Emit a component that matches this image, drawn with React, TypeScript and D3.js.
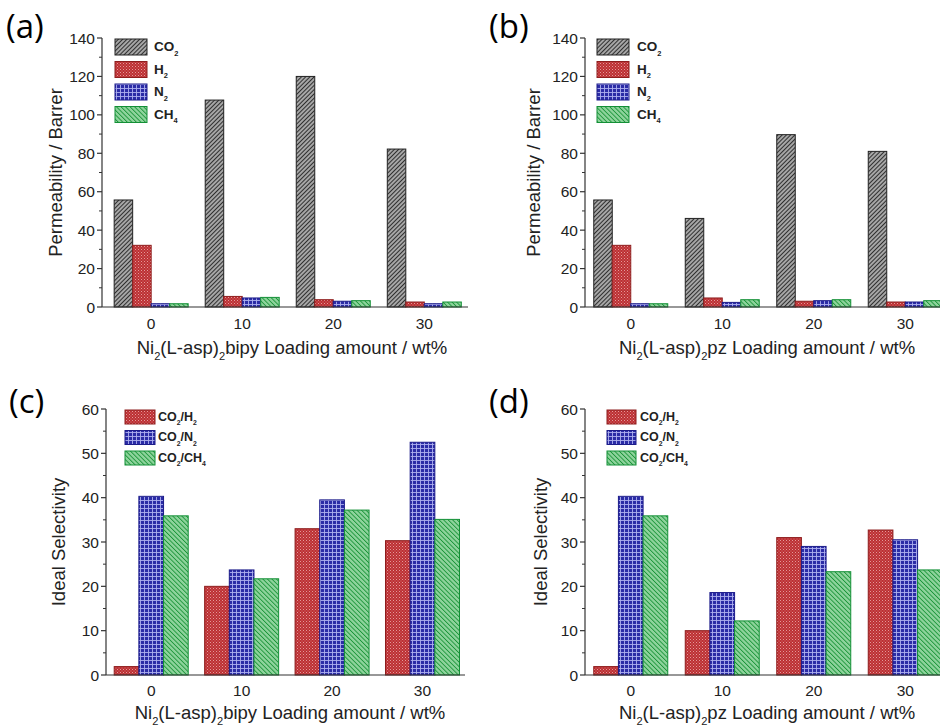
import React from "react";
import * as d3 from "d3";

const loadings = [0, 10, 20, 30];

// Panel (a): Ni2(L-asp)2bipy permeability
const aCO2 = [55.7, 107.7, 120.0, 82.2];
const aH2 = [32.1, 5.5, 3.8, 2.6];
const aN2 = [1.7, 4.7, 3.0, 1.7];
const aCH4 = [1.7, 5.0, 3.3, 2.6];

// Panel (b): Ni2(L-asp)2pz permeability
const bCO2 = [55.7, 46.1, 89.7, 81.0];
const bH2 = [32.1, 4.7, 3.0, 2.6];
const bN2 = [1.7, 2.4, 3.3, 2.6];
const bCH4 = [1.7, 3.8, 3.8, 3.3];

// Panel (c): bipy selectivity
const cH2 = [1.9, 20.0, 33.0, 30.3];
const cN2 = [40.3, 23.7, 39.5, 52.5];
const cCH4 = [35.9, 21.7, 37.2, 35.1];

// Panel (d): pz selectivity
const dH2 = [1.9, 10.0, 31.0, 32.7];
const dN2 = [40.3, 18.6, 29.0, 30.5];
const dCH4 = [35.9, 12.2, 23.3, 23.7];

const permTicks = [0, 20, 40, 60, 80, 100, 120, 140];
const selTicks = [0, 10, 20, 30, 40, 50, 60];

const FONT = "Arial, 'Liberation Sans', sans-serif";

type Style = { fill: string; stroke: string };
const STY: Record<string, Style> = {
  co2: { fill: "url(#pCO2)", stroke: "#222" },
  h2: { fill: "url(#pH2)", stroke: "#8e1e1e" },
  n2: { fill: "url(#pN2)", stroke: "#1c1c8a" },
  ch4: { fill: "url(#pCH4)", stroke: "#139036" },
};

type Series = { key: string; values: number[]; label: string[] };

function Lbl({ parts, size, subScale = 0.62, subShift = 0.3 }: { parts: string[]; size: number; subScale?: number; subShift?: number }) {
  const out: any[] = [];
  let pending = 0;
  parts.forEach((p, i) => {
    if (!p) return;
    if (i % 2 === 1) {
      out.push(
        <tspan key={i} fontSize={size * subScale} dy={size * subShift + pending}>
          {p}
        </tspan>
      );
      pending = -size * subShift;
    } else {
      out.push(
        <tspan key={i} dy={pending}>
          {p}
        </tspan>
      );
      pending = 0;
    }
  });
  return <>{out}</>;
}

function Panel(props: {
  x0: number; x1: number; yTop: number; y0: number; yMax: number; ticks: number[];
  minorStep: number; series: Series[]; tag: string; tagX: number; tagY: number;
  yLabel: string; yLabelX: number; xLabelParts: string[]; xLabelX: number; xLabelY: number;
  tickLabelY: number; legX: number; legY: number; legW: number; legH: number; legStep: number;
  legTextX: number; legFont: number; xDomain: [number, number];
}) {
  const p = props;
  const x = d3.scaleLinear().domain(p.xDomain).range([p.x0, p.x1]);
  const y = d3.scaleLinear().domain([0, p.yMax]).range([p.y0, p.yTop]);
  const sub = d3.scaleBand<string>().domain(p.series.map((s) => s.key)).range([-37, 37]).padding(0);
  const minor = d3.range(p.minorStep, p.yMax, p.minorStep * 2);
  return (
    <g>
      <text x={p.tagX} y={p.tagY} fontFamily="'Open Sans', 'DejaVu Sans', sans-serif" fontSize={33}>{p.tag}</text>
      {p.series.map((s) =>
        s.values.map((v, i) => (
          <rect key={s.key + i} x={x(loadings[i]) + (sub(s.key) as number)} y={y(v)}
            width={sub.bandwidth()} height={p.y0 - y(v)} fill={STY[s.key].fill}
            stroke={STY[s.key].stroke} strokeWidth={1} />
        ))
      )}
      <line x1={p.x0} x2={p.x0} y1={p.yTop} y2={p.y0} stroke="#333" strokeWidth={1.2} />
      <line x1={p.x0} x2={p.x1} y1={p.y0} y2={p.y0} stroke="#333" strokeWidth={1.2} />
      {p.ticks.map((t) => (
        <g key={t}>
          <line x1={p.x0 - 5} x2={p.x0} y1={y(t)} y2={y(t)} stroke="#333" strokeWidth={1.2} />
          <text x={p.x0 - 7} y={y(t) + 5.5} textAnchor="end" fontFamily={FONT} fontSize={15.5} fill="#222">{t}</text>
        </g>
      ))}
      {minor.map((t) => (
        <line key={"m" + t} x1={p.x0 - 3} x2={p.x0} y1={y(t)} y2={y(t)} stroke="#333" strokeWidth={1} />
      ))}
      {loadings.map((l) => (
        <text key={"x" + l} x={x(l)} y={p.tickLabelY} textAnchor="middle" fontFamily={FONT} fontSize={15.5} fill="#222">{l}</text>
      ))}
      <text transform={`translate(${p.yLabelX},${(p.yTop + p.y0) / 2}) rotate(-90)`} textAnchor="middle"
        fontFamily={FONT} fontSize={18.5} fill="#222" dy={6.5}>{p.yLabel}</text>
      <text x={p.xLabelX} y={p.xLabelY} textAnchor="middle" fontFamily={FONT} fontSize={18.5} fill="#222">
        <Lbl parts={p.xLabelParts} size={18.5} subScale={0.6} subShift={0.32} />
      </text>
      {p.series.map((s, i) => (
        <g key={"l" + s.key}>
          <rect x={p.legX} y={p.legY + i * p.legStep} width={p.legW} height={p.legH}
            fill={STY[s.key].fill} stroke={STY[s.key].stroke} strokeWidth={1} />
          <text x={p.legTextX} y={p.legY + i * p.legStep + p.legH / 2 + p.legFont * 0.3}
            fontFamily={FONT} fontWeight="bold" fontSize={p.legFont} fill="#222">
            <Lbl parts={s.label} size={p.legFont} subScale={0.55} subShift={0.35} />
          </text>
        </g>
      ))}
    </g>
  );
}

export default function App() {
  const permSeries = (co2: number[], h2: number[], n2: number[], ch4: number[]): Series[] => [
    { key: "co2", values: co2, label: ["CO", "2"] },
    { key: "h2", values: h2, label: ["H", "2"] },
    { key: "n2", values: n2, label: ["N", "2"] },
    { key: "ch4", values: ch4, label: ["CH", "4"] },
  ];
  const selSeries = (h2: number[], n2: number[], ch4: number[]): Series[] => [
    { key: "h2", values: h2, label: ["CO", "2", "/H", "2"] },
    { key: "n2", values: n2, label: ["CO", "2", "/N", "2"] },
    { key: "ch4", values: ch4, label: ["CO", "2", "/CH", "4"] },
  ];
  const bipy = ["Ni", "2", "(L-asp)", "2", "bipy Loading amount / wt%"];
  const pz = ["Ni", "2", "(L-asp)", "2", "pz Loading amount / wt%"];
  return (
    <svg width={940} height={726} style={{ position: "absolute", left: 0, top: 0, background: "#fff" }}>
      <defs>
        <pattern id="pCO2" width={3} height={3} patternUnits="userSpaceOnUse" patternTransform="rotate(45)">
          <rect width={3} height={3} fill="#a6a6a6" />
          <line x1={0} y1={0} x2={0} y2={3} stroke="#1a1a1a" strokeWidth={1.7} />
        </pattern>
        <pattern id="pH2" width={3} height={3} patternUnits="userSpaceOnUse">
          <rect width={3} height={3} fill="#bd2f32" />
          <rect x={0} y={0} width={1} height={1} fill="#e39a9a" />
          <rect x={1.5} y={1.5} width={1} height={1} fill="#d27b7b" />
        </pattern>
        <pattern id="pN2" width={4} height={4} patternUnits="userSpaceOnUse">
          <rect width={4} height={4} fill="#2b2ca6" />
          <line x1={0} y1={0.5} x2={4} y2={0.5} stroke="#aeb0ee" strokeWidth={0.9} />
          <line x1={0.5} y1={0} x2={0.5} y2={4} stroke="#aeb0ee" strokeWidth={0.9} />
        </pattern>
        <pattern id="pCH4" width={3.2} height={3.2} patternUnits="userSpaceOnUse" patternTransform="rotate(-45)">
          <rect width={3.2} height={3.2} fill="#8fd49d" />
          <line x1={0} y1={0} x2={0} y2={3.2} stroke="#1b9439" strokeWidth={1.8} />
        </pattern>
      </defs>
      <Panel x0={102} x1={468} yTop={38} y0={307} yMax={140} ticks={permTicks} minorStep={10}
        series={permSeries(aCO2, aH2, aN2, aCH4)} tag="(a)" tagX={6} tagY={38}
        yLabel="Permeability / Barrer" yLabelX={55} xLabelParts={bipy} xLabelX={292} xLabelY={354}
        tickLabelY={329} legX={115} legY={39} legW={32} legH={16} legStep={22.5} legTextX={154} legFont={13.5}
        xDomain={[-5.4, 34.8]} />
      <Panel x0={585} x1={951} yTop={38} y0={307} yMax={140} ticks={permTicks} minorStep={10}
        series={permSeries(bCO2, bH2, bN2, bCH4)} tag="(b)" tagX={489} tagY={38}
        yLabel="Permeability / Barrer" yLabelX={533} xLabelParts={pz} xLabelX={767} xLabelY={354}
        tickLabelY={329} legX={597} legY={39} legW={32} legH={16} legStep={22.5} legTextX={637} legFont={13.5}
        xDomain={[-5, 35]} />
      <Panel x0={106} x1={465} yTop={409} y0={675} yMax={60} ticks={selTicks} minorStep={5}
        series={selSeries(cH2, cN2, cCH4)} tag="(c)" tagX={9} tagY={413}
        yLabel="Ideal Selectivity" yLabelX={58} xLabelParts={bipy} xLabelX={290} xLabelY={719}
        tickLabelY={696} legX={125} legY={410} legW={30} legH={14} legStep={20.5} legTextX={158} legFont={12.5}
        xDomain={[-5, 34.7]} />
      <Panel x0={585} x1={951} yTop={409} y0={675} yMax={60} ticks={selTicks} minorStep={5}
        series={selSeries(dH2, dN2, dCH4)} tag="(d)" tagX={489} tagY={413}
        yLabel="Ideal Selectivity" yLabelX={540} xLabelParts={pz} xLabelX={767} xLabelY={719}
        tickLabelY={696} legX={607} legY={410} legW={29} legH={14} legStep={20.5} legTextX={640} legFont={12.5}
        xDomain={[-5, 35]} />
    </svg>
  );
}
